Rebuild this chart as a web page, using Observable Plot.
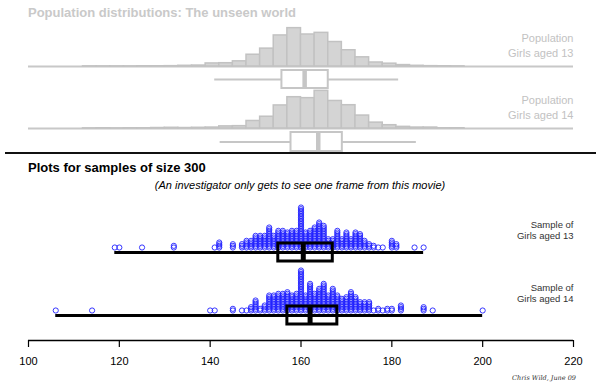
<!DOCTYPE html>
<html><head><meta charset="utf-8">
<script src="https://cdn.jsdelivr.net/npm/d3@7"></script>
<script src="https://cdn.jsdelivr.net/npm/@observablehq/plot@0.6"></script>
<style>
body{margin:0;background:#fff;font-family:"Liberation Sans",Arial,sans-serif;}
#wrap{position:relative;width:600px;height:387px;overflow:hidden;background:#fff;}
#wrap > *{position:absolute;}
.t{white-space:nowrap;line-height:1;}
</style></head><body><div id="wrap"></div>
<script>
// ---- data ----
const xDomain = [100, 220];
const xTicks = [100, 120, 140, 160, 180, 200, 220];
const binWidth = 3;
const popBinStart = [112,115,118,121,124,127,130,133,136,139,142,145,148,151,154,157,160,163,166,169,172,175,178,181,184,187,190,193];
const pop13Pct = [0.05,0.05,0.05,0.05,0.1,0.1,0.15,0.3,0.4,1.3,1.4,2.2,5.0,7.6,13.2,16.3,13.6,14.3,10.4,6.9,3.9,1.7,1.2,0.6,0.3,0.15,0.1,0.05];
const pop14Pct = [0.05,0.1,0.05,0.1,0.1,0.2,0.3,0.2,0.3,0.4,0.9,1.0,3.2,5.0,9.8,13.3,12.9,16.0,11.7,9.9,5.5,2.5,1.4,0.7,0.4,0.4,0.1,0.1];
// min, Q1, median, Q3, max
const pop13Box = [141, 155.8, 160.8, 166, 181.5];
const pop14Box = [142.2, 157.8, 163.8, 169.1, 185.4];
const popLabels = ["Population\nGirls aged 13", "Population\nGirls aged 14"];
const sampleLabels = ["Sample of\nGirls aged 13", "Sample of\nGirls aged 14"];
const s13Values = [119,120,125,132,141,142,145,147,148,149,150,151,152,153,154,155,156,157,158,159,160,161,162,163,164,165,166,167,168,169,170,171,172,173,174,175,176,177,178,180,181,185,187];
const s13Counts = [1,1,1,2,1,4,3,3,5,5,8,8,8,13,8,11,11,10,11,11,25,10,11,13,16,14,6,6,11,6,10,6,10,9,5,3,2,1,1,5,3,1,1];
const s14Values = [106,114,140,141,145,147,148,149,150,151,152,153,154,155,156,157,158,159,160,161,162,163,164,165,166,167,168,169,170,171,172,173,174,175,176,177,178,179,180,182,187,189,200];
const s14Counts = [1,1,1,1,2,1,1,3,7,2,4,10,10,11,11,12,10,11,25,10,17,11,14,17,10,14,10,8,9,12,9,6,6,6,1,2,1,2,2,4,3,1,1];

// ---- helpers ----
const wrap = document.getElementById("wrap");
const FONT = "Liberation Sans, Arial, sans-serif";
function place(el, top, left = 0) { el.style.top = top + "px"; el.style.left = left + "px"; wrap.appendChild(el); }
function text(str, top, left, css) {
  const d = document.createElement("div"); d.className = "t"; d.textContent = str;
  Object.assign(d.style, css); place(d, top, left); return d;
}
const base = {width: 600, marginLeft: 28, marginRight: 27, style: {background: "transparent", fontFamily: FONT, overflow: "visible"}};
const xOpt = {domain: xDomain, axis: null};
const popRows = popBinStart.map((lo, i) => ({lo, hi: lo + binWidth, p13: pop13Pct[i], p14: pop14Pct[i]}));

function hist(key, label) {
  return Plot.plot({...base, height: 48, marginTop: 6, marginBottom: 2,
    x: xOpt, y: {domain: [0, 17], axis: null},
    marks: [
      Plot.ruleY([0], {stroke: "#c8c8c8", strokeWidth: 2}),
      Plot.rectY(popRows, {x1: "lo", x2: "hi", y1: 0, y2: key, fill: "#d4d4d4", stroke: "#c2c2c2", strokeWidth: 1.5}),
      Plot.text([label], {text: d => d, frameAnchor: "right", textAnchor: "end", lineHeight: 1.35, fontSize: 11, fill: "#c2c2c2", dy: -1.5})
    ]});
}
function row(s) { return [{k: "b", min: s[0], q1: s[1], med: s[2], q3: s[3], max: s[4]}]; }
function stats(arr) { const s = arr.slice().sort(d3.ascending); return [d3.min(s), d3.quantile(s, 0.25), d3.quantile(s, 0.5), d3.quantile(s, 0.75), d3.max(s)]; }
function box(s, mt, mb, o) {
  const r = row(s);
  return Plot.plot({...base, height: 22, marginTop: mt, marginBottom: mb,
    x: xOpt, y: {type: "band", domain: ["b"], padding: 0, axis: null},
    marks: [
      Plot.ruleY(r, {y: "k", x1: "min", x2: "max", stroke: o.stroke, strokeWidth: o.w}),
      Plot.barX(r, {y: "k", x1: "q1", x2: "q3", fill: o.fill, stroke: o.stroke, strokeWidth: o.bw}),
      Plot.tickX(r, {y: "k", x: "med", stroke: o.stroke, strokeWidth: o.mw})
    ]});
}
function expand(vals, counts) { return vals.flatMap((v, i) => Array(counts[i]).fill(v)); }
function dots(sample, label) {
  return Plot.plot({...base, height: 60, marginTop: 7, marginBottom: 3,
    x: xOpt, y: {domain: [0, 30], axis: null},
    marks: [
      Plot.dot(sample, Plot.stackY1({x: d => d, r: 2.6, stroke: "#2222ff", strokeOpacity: 0.9, strokeWidth: 1})),
      Plot.text([label], {text: d => d, frameAnchor: "right", textAnchor: "end", lineHeight: 1.2, fontSize: 9.5, fill: "#333", dy: 7.5})
    ]});
}

// ---- population section ----
text("Population distributions: The unseen world", 6, 28, {fontSize: "13px", fontWeight: "bold", color: "#c9c9c9"});
place(hist("p13", popLabels[0]), 20);
const popStyle = {stroke: "#c6c6c6", w: 2, bw: 2, mw: 4.5, fill: "#fff"};
place(box(pop13Box, 1.5, 2.5, popStyle), 68);
place(hist("p14", popLabels[1]), 82);
place(box(pop14Box, 2, 1, popStyle), 130);

// separator
const sep = document.createElement("div");
Object.assign(sep.style, {width: "591px", height: "2px", background: "#111"});
place(sep, 152, 5);

// ---- sample section ----
text("Plots for samples of size 300", 161, 28, {fontSize: "13px", fontWeight: "bold", color: "#000"});
text("(An investigator only gets to see one frame from this movie)", 179.7, 0, {fontSize: "11px", fontStyle: "italic", color: "#000", width: "600px", textAlign: "center"});

const s13 = expand(s13Values, s13Counts);
const s14 = expand(s14Values, s14Counts);
const sampleStyle = {stroke: "#000", w: 3, bw: 3, mw: 5, fill: "none"};
place(dots(s13, sampleLabels[0]), 190);
place(box(stats(s13), 2, 2, sampleStyle), 241);
place(dots(s14, sampleLabels[1]), 253);
place(box(stats(s14), 2, 2, sampleStyle), 304);

// ---- axis ----
place(Plot.plot({...base, height: 55, marginTop: 0, marginBottom: 35,
  x: {domain: xDomain}, y: {domain: [0, 1], axis: null},
  marks: [
    Plot.ruleY([0], {stroke: "#000", strokeWidth: 1.5}),
    Plot.axisX({ticks: xTicks, tickSize: 7, tickPadding: 10, fontSize: 11, stroke: "#000", strokeWidth: 1.2, label: null})
  ]}), 320);

text("Chris Wild, June 09", 375, 0, {fontSize: "6.5px", fontStyle: "italic", fontFamily: "DejaVu Serif, serif", color: "#333", width: "576px", textAlign: "right"});
</script></body></html>
